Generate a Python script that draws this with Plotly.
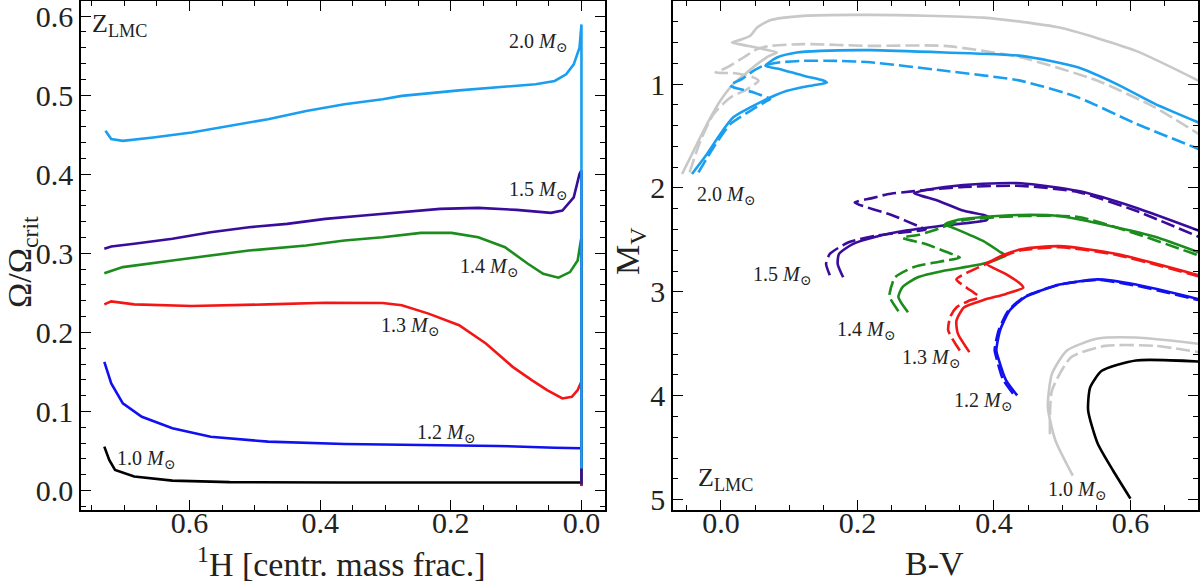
import plotly.graph_objects as go

# ---- left panel: Omega/Omega_crit vs central H mass fraction ----
h_10 = [0.7303, 0.7228, 0.7139, 0.6846, 0.6261, 0.5384, 0.3628, 0.1873, 0.05, 0.003, 0.0, 0.0]
om_10 = [0.0555, 0.0387, 0.0261, 0.0177, 0.0126, 0.0106, 0.0101, 0.0101, 0.0098, 0.0101, 0.0101, 0.006]

h_12 = [0.7303, 0.7197, 0.702, 0.6729, 0.6261, 0.5676, 0.4798, 0.3628, 0.2457, 0.1287, 0.0408, 0.003, 0.0, 0.0]
om_12 = [0.1627, 0.1354, 0.1102, 0.0933, 0.0787, 0.0681, 0.0618, 0.0589, 0.0576, 0.0564, 0.0542, 0.0535, 0.0535, 0.006]

h_13 = [0.7303, 0.7197, 0.6846, 0.5968, 0.4798, 0.392, 0.3043, 0.275, 0.2341, 0.1873, 0.1463,
        0.1053, 0.0761, 0.0526, 0.0292, 0.0147, 0.0058, 0.001, 0.0, 0.0]
om_13 = [0.2354, 0.2392, 0.2354, 0.2333, 0.2354, 0.2375, 0.2371, 0.2342, 0.2237, 0.209, 0.1859,
         0.1564, 0.1396, 0.127, 0.1165, 0.1185, 0.127, 0.1354, 0.138, 0.006]

h_14 = [0.7303, 0.702, 0.6261, 0.5676, 0.509, 0.4213, 0.3628, 0.3043, 0.2457, 0.1989, 0.158,
        0.117, 0.082, 0.0586, 0.0352, 0.0176, 0.0058, 0.001, 0.0, 0.0]
om_14 = [0.2749, 0.2825, 0.2909, 0.2972, 0.3035, 0.3098, 0.3161, 0.3203, 0.3258, 0.3258, 0.3203,
         0.3077, 0.2867, 0.2741, 0.2691, 0.2762, 0.2909, 0.316, 0.32, 0.008]

h_15 = [0.7303, 0.7197, 0.6846, 0.6261, 0.5676, 0.509, 0.4506, 0.392, 0.3335, 0.275, 0.2165,
        0.158, 0.0995, 0.0468, 0.0292, 0.0118, 0.003, 0.0, 0.0]
om_15 = [0.3057, 0.3086, 0.312, 0.3183, 0.3266, 0.333, 0.3372, 0.3435, 0.3477, 0.3519, 0.3561,
         0.3574, 0.3549, 0.3511, 0.354, 0.3707, 0.4003, 0.405, 0.008]

h_20 = [0.7286, 0.7197, 0.702, 0.6555, 0.5968, 0.5384, 0.4798, 0.4213, 0.3628, 0.3043, 0.275,
        0.1873, 0.1287, 0.0702, 0.041, 0.0234, 0.0118, 0.003, 0.0, 0.0]
om_20 = [0.4549, 0.4444, 0.4422, 0.4464, 0.4527, 0.4612, 0.4696, 0.48, 0.4885, 0.4948, 0.499,
         0.506, 0.5103, 0.5137, 0.5179, 0.5263, 0.5389, 0.5599, 0.5894, 0.028]

# ---- right panel: HR diagram (B-V, M_V) ----
bv_20g = [-0.057, -0.040, -0.0205, -0.001, 0.018, 0.038, 0.053, 0.070, 0.082, 0.060, 0.030, 0.016,
          0.030, 0.043, 0.053, 0.072, 0.121, 0.219, 0.384, 0.496, 0.608, 0.70]
mv_20g = [1.865, 1.64, 1.385, 1.16, 1.0, 0.888, 0.808, 0.73, 0.696, 0.66, 0.62, 0.60,
          0.57, 0.535, 0.455, 0.385, 0.343, 0.334, 0.36, 0.456, 0.68, 0.968]
bv_20g_d = [-0.046, -0.030, -0.011, 0.0136, 0.038, 0.055, 0.045, 0.020, -0.008, 0.0088, 0.033,
            0.053, 0.072, 0.121, 0.219, 0.328, 0.44, 0.552, 0.636, 0.70]
mv_20g_d = [1.85, 1.545, 1.29, 1.13, 1.05, 0.968, 0.93, 0.895, 0.888, 0.84, 0.744,
            0.663, 0.632, 0.615, 0.632, 0.632, 0.744, 0.968, 1.225, 1.48]

bv_10g = [0.5156, 0.49, 0.479, 0.485, 0.507, 0.552, 0.608, 0.70]
mv_10g = [4.77, 4.43, 4.11, 3.79, 3.565, 3.45, 3.44, 3.50]
bv_10g_d = [0.482, 0.485, 0.513, 0.563, 0.636, 0.70]
mv_10g_d = [4.37, 3.95, 3.63, 3.52, 3.52, 3.58]

bv_20 = [-0.0425, -0.0205, -0.001, 0.018, 0.043, 0.072, 0.097, 0.131, 0.150, 0.155, 0.150, 0.121,
         0.087, 0.065, 0.082, 0.111, 0.1455, 0.219, 0.328, 0.44, 0.524, 0.58, 0.636, 0.70]
mv_20 = [1.865, 1.673, 1.48, 1.32, 1.225, 1.129, 1.064, 1.016, 0.995, 0.985, 0.965, 0.92,
         0.856, 0.824, 0.744, 0.696, 0.68, 0.673, 0.696, 0.728, 0.84, 1.0, 1.19, 1.37]
bv_20_d = [-0.033, -0.011, 0.0136, 0.043, 0.065, 0.072, 0.060, 0.048, 0.018, 0.013, 0.031, 0.048,
           0.062, 0.087, 0.121, 0.17, 0.219, 0.328, 0.44, 0.524, 0.608, 0.70]
mv_20_d = [1.85, 1.61, 1.385, 1.257, 1.17, 1.144, 1.11, 1.08, 1.03, 1.01, 0.95, 0.87,
           0.824, 0.79, 0.776, 0.776, 0.79, 0.872, 0.969, 1.13, 1.38, 1.625]

bv_15 = [0.179, 0.171, 0.173, 0.193, 0.227, 0.271, 0.327, 0.389, 0.392, 0.385, 0.356, 0.317,
         0.283, 0.300, 0.328, 0.384, 0.44, 0.524, 0.608, 0.70]
mv_15 = [2.86, 2.73, 2.635, 2.54, 2.47, 2.41, 2.36, 2.31, 2.28, 2.26, 2.22, 2.12,
         2.05, 2.02, 1.99, 1.96, 1.955, 2.03, 2.19, 2.41]
bv_15_d = [0.1595, 0.154, 0.1595, 0.188, 0.227, 0.262, 0.30, 0.29, 0.25, 0.196, 0.22, 0.244,
           0.283, 0.356, 0.44, 0.524, 0.608, 0.70]
mv_15_d = [2.84, 2.73, 2.635, 2.52, 2.46, 2.43, 2.40, 2.37, 2.26, 2.14, 2.10, 2.06,
           2.03, 1.99, 1.98, 2.04, 2.22, 2.47]

bv_14 = [0.274, 0.26, 0.266, 0.2885, 0.328, 0.384, 0.4176, 0.41, 0.384, 0.339, 0.328, 0.345,
         0.384, 0.44, 0.496, 0.58, 0.636, 0.70]
mv_14 = [3.196, 3.05, 2.955, 2.86, 2.795, 2.73, 2.65, 2.62, 2.51, 2.38, 2.35, 2.31,
         2.28, 2.26, 2.27, 2.38, 2.47, 2.62]
bv_14_d = [0.26, 0.247, 0.247, 0.255, 0.283, 0.32, 0.35, 0.34, 0.30, 0.266, 0.29, 0.311,
           0.356, 0.44, 0.524, 0.608, 0.70]
mv_14_d = [3.187, 3.05, 3.02, 2.86, 2.76, 2.71, 2.67, 2.64, 2.54, 2.48, 2.45, 2.41,
           2.31, 2.27, 2.28, 2.44, 2.65]

bv_13 = [0.364, 0.347, 0.345, 0.356, 0.384, 0.4176, 0.443, 0.44, 0.4176, 0.389, 0.40, 0.412,
         0.44, 0.496, 0.58, 0.70]
mv_13 = [3.58, 3.40, 3.28, 3.15, 3.08, 3.02, 2.96, 2.93, 2.83, 2.73, 2.69, 2.65,
         2.59, 2.56, 2.635, 2.84]
bv_13_d = [0.35, 0.333, 0.336, 0.345, 0.362, 0.378, 0.36, 0.345, 0.367, 0.389, 0.412, 0.44,
           0.496, 0.58, 0.70]
mv_13_d = [3.565, 3.37, 3.24, 3.15, 3.09, 3.05, 2.96, 2.88, 2.795, 2.73, 2.66, 2.60,
           2.57, 2.645, 2.85]

bv_12 = [0.434, 0.4176, 0.406, 0.4035, 0.409, 0.423, 0.4456, 0.468, 0.496, 0.552, 0.608, 0.70]
mv_12 = [3.997, 3.85, 3.63, 3.565, 3.37, 3.18, 3.05, 2.99, 2.93, 2.88, 2.93, 3.07]
bv_12_d = [0.428, 0.413, 0.403, 0.401, 0.407, 0.421, 0.444, 0.467, 0.496, 0.552, 0.608, 0.70]
mv_12_d = [3.98, 3.84, 3.62, 3.56, 3.37, 3.18, 3.05, 2.99, 2.93, 2.885, 2.94, 3.08]

bv_10 = [0.60, 0.5745, 0.552, 0.538, 0.541, 0.558, 0.608, 0.70]
mv_10 = [4.99, 4.72, 4.46, 4.14, 3.92, 3.76, 3.66, 3.67]

mass_labels = ["1.0", "1.2", "1.3", "1.4", "1.5", "2.0"]
colors = {"1.0": "black", "1.2": "#1010f0", "1.3": "#f21616", "1.4": "#1c8c1c",
          "1.5": "#3a0c9c", "2.0": "#1a9ff0", "gray": "#c8c8c8"}

# label positions (centre of text)
lab_left_x = [0.666, 0.207, 0.2625, 0.142, 0.067, 0.067]
lab_left_y = [0.0387, 0.0724, 0.207, 0.2825, 0.379, 0.566]
lab_right_x = [0.521, 0.384, 0.308, 0.213, 0.09, 0.008]
lab_right_y = [4.91, 4.06, 3.645, 3.37, 2.84, 2.07]

SERIF = "Liberation Serif, DejaVu Serif, serif"
LW = 2.6
DASH = "14px,5px"
TXT = "#222"

fig = go.Figure()

left_tracks = [(h_10, om_10, "1.0"), (h_12, om_12, "1.2"), (h_13, om_13, "1.3"),
               (h_14, om_14, "1.4"), (h_15, om_15, "1.5"), (h_20, om_20, "2.0")]
for xs, ys, m in left_tracks:
    fig.add_trace(go.Scatter(x=xs, y=ys, mode="lines", xaxis="x", yaxis="y",
                             line=dict(color=colors[m], width=LW), showlegend=False))

right_tracks = [
    (bv_20g, mv_20g, "gray", "solid"), (bv_20g_d, mv_20g_d, "gray", DASH),
    (bv_10g, mv_10g, "gray", "solid"), (bv_10g_d, mv_10g_d, "gray", DASH),
    (bv_20, mv_20, "2.0", "solid"), (bv_20_d, mv_20_d, "2.0", DASH),
    (bv_15, mv_15, "1.5", "solid"), (bv_15_d, mv_15_d, "1.5", DASH),
    (bv_14, mv_14, "1.4", "solid"), (bv_14_d, mv_14_d, "1.4", DASH),
    (bv_13, mv_13, "1.3", "solid"), (bv_13_d, mv_13_d, "1.3", DASH),
    (bv_12, mv_12, "1.2", "solid"), (bv_12_d, mv_12_d, "1.2", DASH),
    (bv_10, mv_10, "1.0", "solid"),
]
for xs, ys, c, d in right_tracks:
    fig.add_trace(go.Scatter(x=xs, y=ys, mode="lines", xaxis="x2", yaxis="y2",
                             line=dict(color=colors[c], width=LW, dash=d,
                                       shape="spline", smoothing=0.6),
                             showlegend=False))

annotations = []
for i, m in enumerate(mass_labels):
    txt = m + " <i>M</i><sub>⊙</sub>"
    annotations.append(dict(x=lab_left_x[i], y=lab_left_y[i], xref="x", yref="y", text=txt,
                            xanchor="center", yanchor="middle", showarrow=False,
                            font=dict(family=SERIF, size=20, color=TXT)))
    annotations.append(dict(x=lab_right_x[i], y=lab_right_y[i], xref="x2", yref="y2", text=txt,
                            xanchor="center", yanchor="middle", showarrow=False,
                            font=dict(family=SERIF, size=20, color=TXT)))

annotations.append(dict(x=0.752, y=0.589, xref="x", yref="y", text="Z<sub>LMC</sub>",
                        xanchor="left", yanchor="middle", showarrow=False,
                        font=dict(family=SERIF, size=26, color=TXT)))
annotations.append(dict(x=-0.036, y=4.80, xref="x2", yref="y2", text="Z<sub>LMC</sub>",
                        xanchor="left", yanchor="middle", showarrow=False,
                        font=dict(family=SERIF, size=26, color=TXT)))


def px(x):
    return (x - 81) / 1117


def py(y):
    return (510 - y) / 509


annotations += [
    dict(x=px(22), y=py(262), xref="paper", yref="paper", text="Ω/Ω<sub>crit</sub>",
         textangle=-90, xanchor="center", yanchor="middle", showarrow=False,
         font=dict(family=SERIF, size=34, color=TXT)),
    dict(x=px(341), y=py(562), xref="paper", yref="paper", text="<sup>1</sup>H [centr. mass frac.]",
         xanchor="center", yanchor="middle", showarrow=False,
         font=dict(family=SERIF, size=34, color=TXT)),
    dict(x=px(630), y=py(252), xref="paper", yref="paper", text="M<sub>V</sub>",
         textangle=-90, xanchor="center", yanchor="middle", showarrow=False,
         font=dict(family=SERIF, size=34, color=TXT)),
    dict(x=px(934), y=py(563), xref="paper", yref="paper", text="B-V",
         xanchor="center", yanchor="middle", showarrow=False,
         font=dict(family=SERIF, size=34, color=TXT)),
]

axis_common = dict(showline=True, linecolor="black", linewidth=1.5, mirror="ticks",
                   ticks="inside", ticklen=10, tickwidth=1.2, tickcolor="black",
                   showgrid=False, zeroline=False, automargin=False,
                   ticklabeloverflow="allow",
                   tickfont=dict(family=SERIF, size=30, color=TXT))

fig.update_layout(
    width=1200, height=584,
    margin=dict(l=81, r=2, t=1, b=74),
    plot_bgcolor="white", paper_bgcolor="white",
    showlegend=False,
    xaxis=dict(domain=[0, 0.4691], range=[0.766, -0.036], tickvals=[0.6, 0.4, 0.2, 0.0],
               ticktext=["0.6", "0.4", "0.2", "0.0"], ticklabelstandoff=-15,
               minor=dict(ticks="inside", ticklen=5, tickcolor="black", dtick=0.05, tick0=0),
               anchor="y", **axis_common),
    yaxis=dict(domain=[0, 1], range=[-0.0246, 0.619], dtick=0.1, tickformat=".1f",
               minor=dict(ticks="inside", ticklen=5, tickcolor="black", dtick=0.02, tick0=0),
               anchor="x", **axis_common),
    xaxis2=dict(domain=[0.530, 1.0], range=[-0.0703, 0.699], dtick=0.2, tickformat=".1f",
                ticklabelstandoff=-15,
                minor=dict(ticks="inside", ticklen=5, tickcolor="black", dtick=0.05, tick0=0),
                anchor="y2", **axis_common),
    yaxis2=dict(domain=[0, 1], range=[5.1, 0.2], tickvals=[1, 2, 3, 4, 5],
                minor=dict(ticks="inside", ticklen=5, tickcolor="black", dtick=0.2, tick0=0),
                anchor="x2", **axis_common),
    annotations=annotations,
)

fig.write_html("out.html", config={"displayModeBar": False},
               post_script="document.body.style.margin='0';")
